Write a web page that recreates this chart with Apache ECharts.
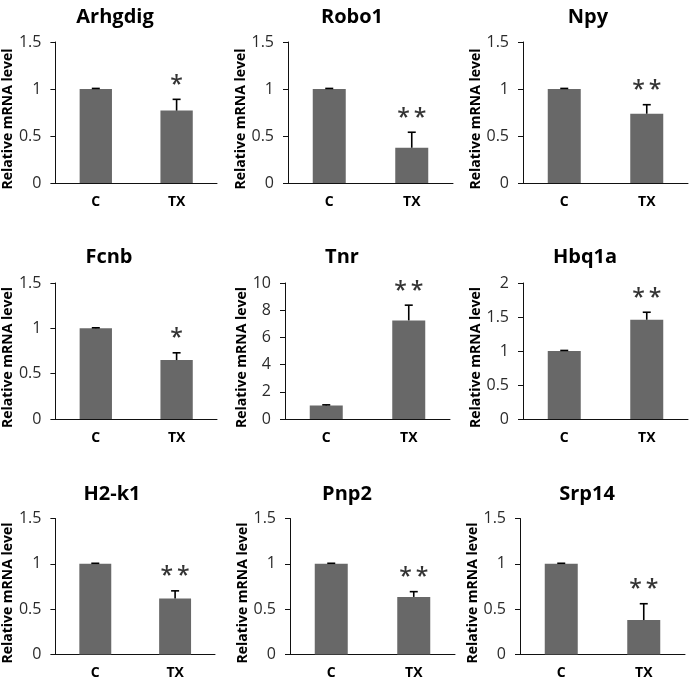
<!DOCTYPE html>
<html>
<head>
<meta charset="utf-8">
<script src="https://cdn.jsdelivr.net/npm/echarts@6/dist/echarts.min.js"></script>
<style>
html,body{margin:0;padding:0;background:#fff;}
#chart{width:690px;height:682px;}
</style>
</head>
<body>
<div id="chart"></div>
<script>
// ---- data ----
const genes = ['Arhgdig', 'Robo1', 'Npy', 'Fcnb', 'Tnr', 'Hbq1a', 'H2-k1', 'Pnp2', 'Srp14'];
const categories = ['C', 'TX'];
const controlMean = [1, 1, 1, 1, 1, 1, 1, 1, 1];
const controlErr = [0.006, 0.006, 0.006, 0.006, 0.04, 0.008, 0.006, 0.006, 0.006];
const txMean = [0.77, 0.375, 0.737, 0.65, 7.25, 1.46, 0.617, 0.635, 0.38];
const txErr = [0.12, 0.165, 0.096, 0.08, 1.12, 0.11, 0.085, 0.058, 0.18];
const stars = ['*', '**', '**', '*', '**', '**', '**', '**', '**'];
const yMax = [1.5, 1.5, 1.5, 1.5, 10, 2, 1.5, 1.5, 1.5];
const yInterval = [0.5, 0.5, 0.5, 0.5, 2, 0.5, 0.5, 0.5, 0.5];
const yAxisTitle = 'Relative mRNA level';

// ---- layout ----
const gridLeft = [52, 288, 523, 52, 285, 523, 50, 290, 520];
const gridTop = [42, 42, 42, 283, 283, 283, 518.5, 518.5, 518.5];
const gridHeight = [141, 141, 141, 136, 136, 136, 136, 136, 136];
const gridWidth = 165;
const titleX = [110, 347, 583, 104, 337, 580, 107, 342, 582];
const titleY = [2.5, 2.5, 2.5, 242, 242, 242, 479.5, 479.5, 479.5];
const nameCenterX = [8, 242.5, 478.7, 7, 245.3, 478.7, 6.7, 243.8, 478];

const FONT = '"Open Sans", "Liberation Sans", sans-serif';
const AXIS_COLOR = '#111';
const BAR_COLOR = '#686868';

const grids = [], xAxes = [], yAxes = [], series = [], titles = [];
genes.forEach((g, i) => {
  grids.push({ left: gridLeft[i], top: gridTop[i], width: gridWidth, height: gridHeight[i], containLabel: false });
  titles.push({
    text: g, left: titleX[i], top: titleY[i], textAlign: 'center',
    textStyle: { fontFamily: FONT, fontWeight: 'bold', fontSize: 20, color: '#000' }
  });
  xAxes.push({
    type: 'category', gridIndex: i, data: categories,
    axisLine: { show: true, lineStyle: { color: AXIS_COLOR, width: 1 } },
    axisTick: { show: false },
    axisLabel: { margin: 12, fontFamily: FONT, fontWeight: 'bold', fontSize: 14, color: '#000' },
    splitLine: { show: false }
  });
  yAxes.push({
    type: 'value', gridIndex: i, min: 0, max: yMax[i], interval: yInterval[i],
    name: yAxisTitle, nameLocation: 'middle',
    nameGap: gridLeft[i] - nameCenterX[i] - 7,
    nameTextStyle: { fontFamily: FONT, fontWeight: 'bold', fontSize: 14, color: '#000', padding: [0, 13, 0, 0] },
    axisLine: { show: true, lineStyle: { color: AXIS_COLOR, width: 1 } },
    axisTick: { show: true, inside: false, length: 5, lineStyle: { color: AXIS_COLOR } },
    axisLabel: { margin: 14, fontFamily: FONT, fontSize: 16, color: '#2b2b2b' },
    splitLine: { show: false }
  });
  const means = [controlMean[i], txMean[i]];
  const errs = [controlErr[i], txErr[i]];
  series.push({
    type: 'bar', xAxisIndex: i, yAxisIndex: i, data: means, barWidth: '40%',
    itemStyle: { color: BAR_COLOR }, silent: true, animation: false
  });
  series.push({
    type: 'custom', xAxisIndex: i, yAxisIndex: i,
    data: means.map((m, k) => [k, m, errs[k]]),
    renderItem: function (params, api) {
      const x = api.value(0), m = api.value(1), e = api.value(2);
      const p0 = api.coord([x, m]);
      const p1 = api.coord([x, m + e]);
      const style = { stroke: '#000', lineWidth: 1.6, fill: null };
      return {
        type: 'group', children: [
          { type: 'line', shape: { x1: p0[0], y1: p0[1], x2: p1[0], y2: p1[1] }, style: style },
          { type: 'line', shape: { x1: p1[0] - 4, y1: p1[1], x2: p1[0] + 4, y2: p1[1] }, style: style }
        ]
      };
    },
    z: 3, silent: true, animation: false
  });
  series.push({
    type: 'scatter', xAxisIndex: i, yAxisIndex: i,
    data: [[1, txMean[i] + txErr[i]]], symbolSize: 0,
    label: {
      show: true, position: 'inside', offset: [0, -14],
      formatter: stars[i].split('').join('\u2009'),
      fontFamily: FONT, fontWeight: 600, fontSize: 23, color: '#000', align: 'center', verticalAlign: 'middle'
    },
    silent: true, animation: false
  });
});

const chart = echarts.init(document.getElementById('chart'), null, { renderer: 'canvas' });
chart.setOption({
  backgroundColor: '#fff',
  animation: false,
  title: titles,
  grid: grids,
  xAxis: xAxes,
  yAxis: yAxes,
  series: series
});
</script>
</body>
</html>
